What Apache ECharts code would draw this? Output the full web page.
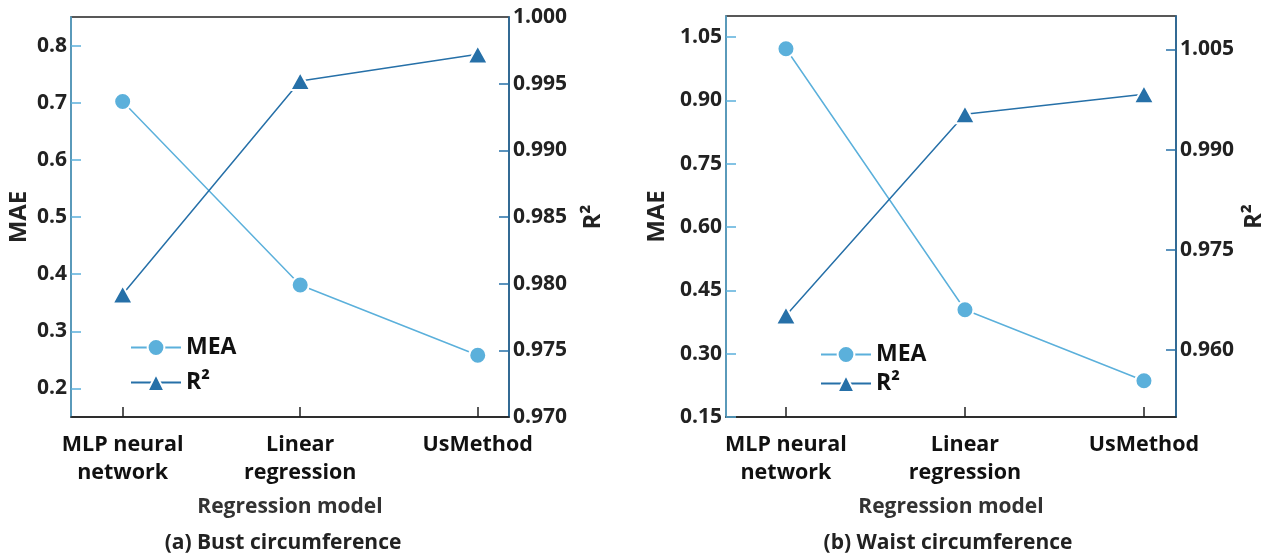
<!DOCTYPE html>
<html>
<head>
<meta charset="utf-8">
<script src="https://cdn.jsdelivr.net/npm/echarts@6/dist/echarts.min.js"></script>
<style>
  html, body { margin: 0; padding: 0; background: #fff; }
  #chart { width: 1269px; height: 558px; }
</style>
</head>
<body>
<div id="chart"></div>
<script>
const categories = ["MLP neural\nnetwork", "Linear\nregression", "UsMethod"];
const categoryIndex = [0, 1, 2];

// (a) bust circumference
const bustMae = [0.702, 0.381, 0.258];
const bustR2 = [0.9792, 0.9952, 0.9972];
// (b) waist circumference
const waistMae = [1.0225, 0.404, 0.236];
const waistR2 = [0.9652, 0.9953, 0.9983];

const bustMaeTicks = [0.2, 0.3, 0.4, 0.5, 0.6, 0.7, 0.8];
const bustR2Labels = [0.97, 0.975, 0.98, 0.985, 0.99, 0.995, 1.0];
const bustR2Ticks = [0.975, 0.98, 0.985, 0.99, 0.995];
const waistMaeTicks = [0.15, 0.3, 0.45, 0.6, 0.75, 0.9, 1.05];
const waistR2Ticks = [0.96, 0.975, 0.99, 1.005];

const FONT = "Open Sans";
const maeColor = "#5bb0db";
const r2Color = "#2670a8";

const chart = echarts.init(document.getElementById("chart"));

function pairs(values) {
  return values.map((v, i) => [categoryIndex[i], v]);
}

function xAxis(gridIndex, min, max) {
  return {
    type: "value",
    gridIndex,
    min,
    max,
    name: "Regression model",
    nameLocation: "middle",
    nameGap: 80,
    nameTextStyle: { fontFamily: FONT, fontSize: 21, fontWeight: "bold", color: "#333" },
    splitLine: { show: false },
    axisLine: { onZero: false, lineStyle: { color: "#222", width: 1.5 } },
    axisTick: { inside: true, length: 10, customValues: categoryIndex, lineStyle: { color: "#222", width: 1.5 } },
    axisLabel: {
      customValues: categoryIndex,
      formatter: (v) => categories[Math.round(v)],
      fontFamily: FONT, fontSize: 21.5, fontWeight: "bold", color: "#111",
      lineHeight: 28, margin: 14
    }
  };
}

function yAxis(gridIndex, opts) {
  return {
    type: "value",
    gridIndex,
    position: opts.position,
    min: opts.min,
    max: opts.max,
    name: opts.name,
    nameLocation: "middle",
    nameRotate: 90,
    nameGap: opts.nameGap,
    nameTextStyle: { fontFamily: FONT, fontSize: 24, fontWeight: "bold", color: "#222" },
    splitLine: { show: false },
    axisLine: { show: true, onZero: false, lineStyle: { color: opts.color, width: 1.5 } },
    axisTick: { inside: true, length: 10, customValues: opts.ticks, lineStyle: { color: opts.color, width: 1.5 } },
    axisLabel: {
      customValues: opts.labels,
      formatter: (v) => v.toFixed(opts.digits),
      fontFamily: FONT, fontSize: 21, fontWeight: "bold", color: "#222",
      margin: 4
    }
  };
}

function lineSeries(name, xi, yi, data, color, symbol, size) {
  return {
    name,
    type: "line",
    xAxisIndex: xi,
    yAxisIndex: yi,
    data: pairs(data),
    symbol,
    symbolSize: size,
    lineStyle: { color, width: 1.5 },
    itemStyle: { color, borderColor: "#fff", borderWidth: 2 }
  };
}

const legendText = { fontFamily: FONT, fontSize: 23, fontWeight: "bold", color: "#111" };

chart.setOption({
  animation: false,
  grid: [
    { left: 71, right: 760, top: 17, bottom: 141, show: true, borderColor: "#222", borderWidth: 1.5 },
    { left: 726, right: 93, top: 16, bottom: 141, show: true, borderColor: "#222", borderWidth: 1.5 }
  ],
  legend: [
    {
      orient: "vertical", left: 125, top: 331, itemWidth: 50, itemHeight: 21, itemGap: 12,
      data: ["MEA", "R²"], textStyle: legendText
    },
    {
      orient: "vertical", left: 815, top: 338, itemWidth: 50, itemHeight: 21, itemGap: 6,
      data: ["MEA", "R²"], textStyle: legendText
    }
  ],
  xAxis: [xAxis(0, -0.291, 2.176), xAxis(1, -0.335, 2.179)],
  yAxis: [
    yAxis(0, { position: "left", min: 0.15, max: 0.85, name: "MAE", nameGap: 40, color: maeColor,
      ticks: bustMaeTicks, labels: bustMaeTicks, digits: 1 }),
    yAxis(0, { position: "right", min: 0.97, max: 1.0, name: "R²", nameGap: 72, color: r2Color,
      ticks: bustR2Ticks, labels: bustR2Labels, digits: 3 }),
    yAxis(1, { position: "left", min: 0.15, max: 1.1, name: "MAE", nameGap: 57, color: maeColor,
      ticks: waistMaeTicks, labels: waistMaeTicks, digits: 2 }),
    yAxis(1, { position: "right", min: 0.95, max: 1.01, name: "R²", nameGap: 66, color: r2Color,
      ticks: waistR2Ticks, labels: waistR2Ticks, digits: 3 })
  ],
  series: [
    lineSeries("MEA", 0, 0, bustMae, maeColor, "circle", 17),
    lineSeries("R²", 0, 1, bustR2, r2Color, "triangle", [20, 18]),
    lineSeries("MEA", 1, 2, waistMae, maeColor, "circle", 17),
    lineSeries("R²", 1, 3, waistR2, r2Color, "triangle", [20, 18])
  ],
  graphic: [
    { type: "text", x: 283, y: 543, style: { text: "(a) Bust circumference", fontFamily: FONT, fontSize: 21,
      fontWeight: "bold", fill: "#222", align: "center", verticalAlign: "middle" } },
    { type: "text", x: 948, y: 543, style: { text: "(b) Waist circumference", fontFamily: FONT, fontSize: 21,
      fontWeight: "bold", fill: "#222", align: "center", verticalAlign: "middle" } }
  ]
});
</script>
</body>
</html>
